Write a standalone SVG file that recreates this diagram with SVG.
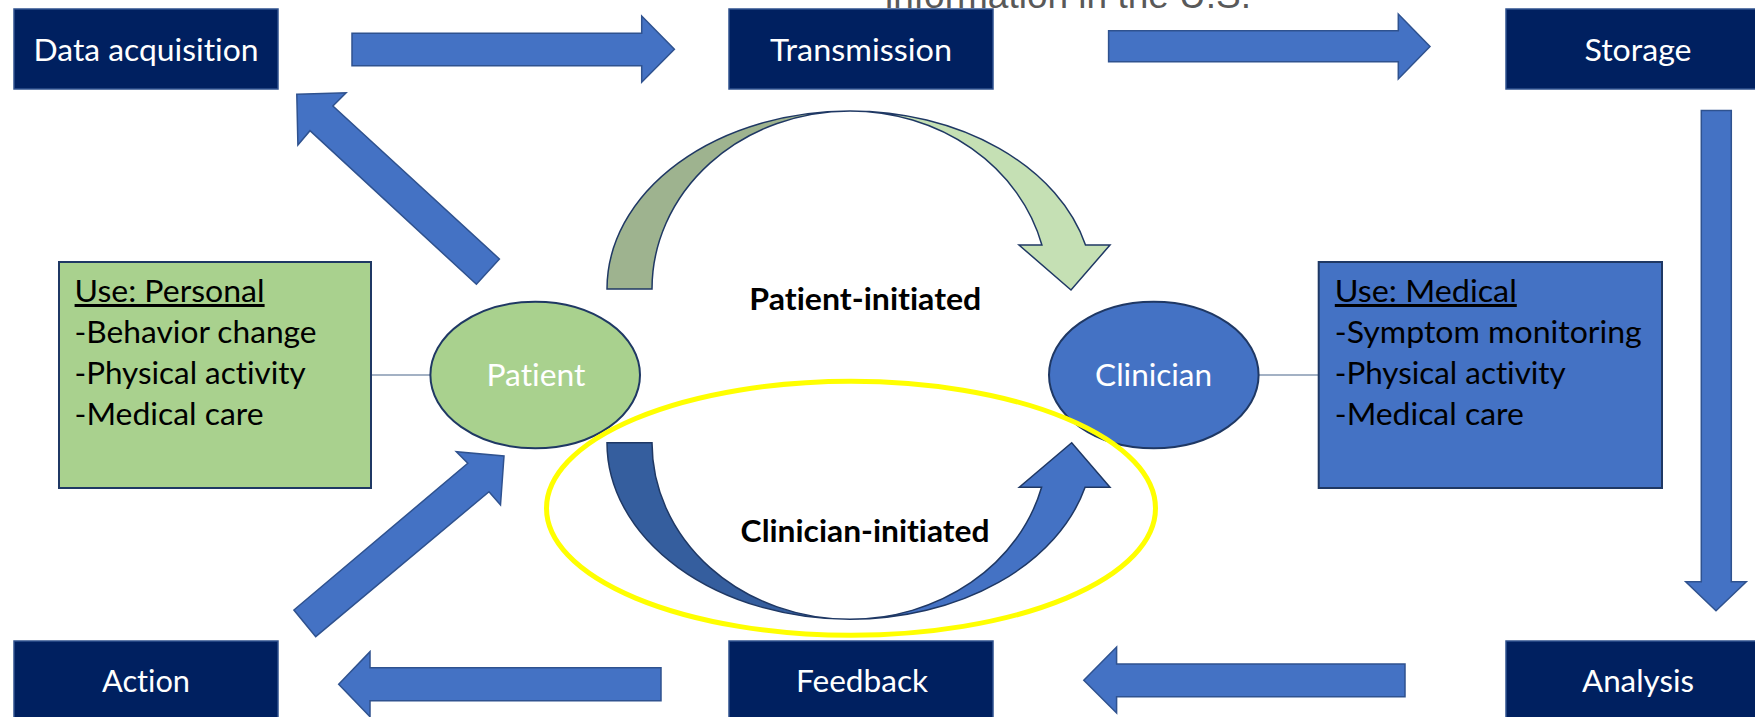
<svg xmlns="http://www.w3.org/2000/svg" width="1755" height="717" viewBox="0 0 1755 717">
<style>
text{font-variant-ligatures:none}
.box{fill:#002060;stroke:#2F528F;stroke-width:1.5}
.blk{fill:#4472C4;stroke:#2F528F;stroke-width:1.5;stroke-linejoin:miter}
.lbl{font-family:Lato,"Liberation Sans",sans-serif;font-size:30px;fill:#FFFFFF;text-anchor:middle}
.body{font-family:Lato,"Liberation Sans",sans-serif;font-size:30px;fill:#000000}
.bold{font-family:Lato,"Liberation Sans",sans-serif;font-size:30px;font-weight:bold;fill:#000000;text-anchor:middle}
.curve{stroke:#1F3864;stroke-width:1.5;stroke-linejoin:miter}
.link{stroke:#8497B0;stroke-width:1.5;fill:none}
</style>
<rect width="1755" height="717" fill="#FFFFFF"/>
<text x="885" y="8" font-family="'Liberation Sans',Arial,sans-serif" font-size="37" fill="#595959">information in the U.S.</text>

<g id="connectors">
  <polygon class="blk" points="352,33.3 641.7,33.3 641.7,16 674.4,49.3 641.7,82.3 641.7,65.7 352,65.7"/>
  <polygon class="blk" points="1108.6,30.7 1398.3,30.7 1398.3,14 1430,46.5 1398.3,79 1398.3,61.7 1108.6,61.7"/>
  <polygon class="blk" points="1701.3,110.5 1731.3,110.5 1731.3,581.7 1746.3,581.7 1716,610.7 1685.7,581.7 1701.3,581.7"/>
  <polygon class="blk" points="1405,664 1116.6,664 1116.6,647 1083.8,680.3 1116.6,713 1116.6,696.7 1405,696.7"/>
  <polygon class="blk" points="661,667.7 370,667.7 370,651.7 338.7,684.2 370,716.7 370,700.7 661,700.7"/>
  <polygon class="blk" points="296.8,94.3 346.1,92.7 332.9,106 499.4,259 476.4,284.3 310,130.7 297.9,145"/>
  <polygon class="blk" points="504,456 500.5,505 489,491.7 315.7,636.7 293.9,610 467.8,463.3 456.3,451.7"/>
  <path class="curve" fill="#9EB38F" d="M607,289 A243,178 0 0 1 850,111 A198,178 0 0 0 652,289 Z"/>
  <path class="curve" fill="#C5E0B4" d="M850,111 A243,178 0 0 1 1085.5,245 L1110,245 L1071,290 L1019,245 L1041.9,245 A198,178 0 0 0 850,111 Z"/>
  <path class="curve" fill="#355E9E" d="M607,442.7 A243,176.6 0 0 0 850,619.3 A198,176.6 0 0 1 652,442.7 Z"/>
  <path class="curve" fill="#4472C4" d="M850,619.3 A243,176.6 0 0 0 1085.1,487.3 L1110,487.3 L1071.7,442.7 L1019.3,487.3 L1041.6,487.3 A198,176.6 0 0 1 850,619.3 Z"/>
  <line class="link" x1="371" y1="375" x2="430.5" y2="375"/>
  <line class="link" x1="1258.6" y1="375" x2="1318.7" y2="375"/>
</g>

<g id="data-acquisition"><rect class="box" x="14" y="9" width="264" height="80"/><text class="lbl" x="146" y="61" textLength="225" lengthAdjust="spacingAndGlyphs">Data acquisition</text></g>
<g id="transmission"><rect class="box" x="729" y="9" width="264" height="80"/><text class="lbl" x="861" y="61" textLength="182" lengthAdjust="spacingAndGlyphs">Transmission</text></g>
<g id="storage"><rect class="box" x="1506" y="9" width="264" height="80"/><text class="lbl" x="1638" y="61" textLength="107" lengthAdjust="spacingAndGlyphs">Storage</text></g>
<g id="action"><rect class="box" x="14" y="641" width="264" height="80"/><text class="lbl" x="146" y="692" textLength="88" lengthAdjust="spacingAndGlyphs">Action</text></g>
<g id="feedback"><rect class="box" x="729" y="641" width="264" height="80"/><text class="lbl" x="862" y="692" textLength="132" lengthAdjust="spacingAndGlyphs">Feedback</text></g>
<g id="analysis"><rect class="box" x="1506" y="641" width="264" height="80"/><text class="lbl" x="1638" y="692" textLength="112" lengthAdjust="spacingAndGlyphs">Analysis</text></g>

<g id="use-personal">
  <rect x="59" y="262" width="312" height="226" fill="#A9D18E" stroke="#1F3864" stroke-width="2"/>
  <text class="body" x="74.6" y="302" textLength="190" lengthAdjust="spacingAndGlyphs" text-decoration="underline">Use: Personal</text>
  <text class="body" x="74.6" y="343" textLength="242" lengthAdjust="spacingAndGlyphs">-Behavior change</text>
  <text class="body" x="74.6" y="383.5" textLength="231" lengthAdjust="spacingAndGlyphs">-Physical activity</text>
  <text class="body" x="74.6" y="425" textLength="189" lengthAdjust="spacingAndGlyphs">-Medical care</text>
</g>

<g id="use-medical">
  <rect x="1318.7" y="262" width="343.3" height="226" fill="#4472C4" stroke="#1F3864" stroke-width="2"/>
  <text class="body" x="1334.8" y="302" textLength="182" lengthAdjust="spacingAndGlyphs" text-decoration="underline">Use: Medical</text>
  <text class="body" x="1334.8" y="343" textLength="307" lengthAdjust="spacingAndGlyphs">-Symptom monitoring</text>
  <text class="body" x="1334.8" y="383.5" textLength="231" lengthAdjust="spacingAndGlyphs">-Physical activity</text>
  <text class="body" x="1334.8" y="425" textLength="189" lengthAdjust="spacingAndGlyphs">-Medical care</text>
</g>

<g id="patient">
  <ellipse cx="535.2" cy="375" rx="104.8" ry="73.3" fill="#A9D18E" stroke="#1F3864" stroke-width="2"/>
  <text class="lbl" x="536" y="386" textLength="99" lengthAdjust="spacingAndGlyphs">Patient</text>
</g>
<g id="clinician">
  <ellipse cx="1153.8" cy="375" rx="104.8" ry="73.3" fill="#4472C4" stroke="#1F3864" stroke-width="2"/>
  <text class="lbl" x="1153.6" y="386" textLength="117" lengthAdjust="spacingAndGlyphs">Clinician</text>
</g>

<g id="patient-initiated"><text class="bold" x="865.3" y="310" textLength="232" lengthAdjust="spacingAndGlyphs">Patient-initiated</text></g>
<g id="clinician-initiated"><text class="bold" x="865.1" y="541.7" textLength="249" lengthAdjust="spacingAndGlyphs">Clinician-initiated</text></g>

<g id="highlight"><ellipse cx="851" cy="508.3" rx="304.5" ry="127" fill="none" stroke="#FFFF00" stroke-width="5"/></g>
</svg>
